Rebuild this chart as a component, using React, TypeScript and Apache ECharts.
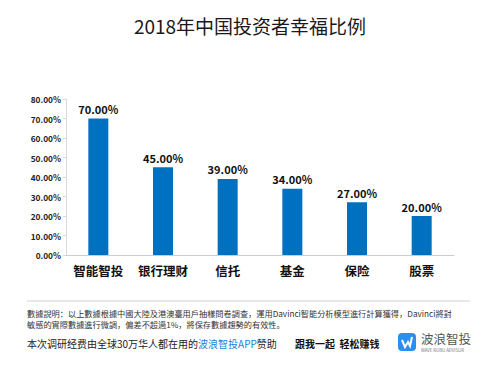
import React, { useEffect, useRef } from "react";
import * as echarts from "echarts";

const title = "2018年中国投资者幸福比例";
const categories = ["智能智投", "银行理财", "信托", "基金", "保险", "股票"];
const values = [70, 45, 39, 34, 27, 20];
const yTicks = { min: 0, max: 80, interval: 10 };
const noteLine1 = "數據說明：以上數據根據中國大陸及港澳臺用戶抽樣問卷調查，運用Davinci智能分析模型進行計算獲得，Davinci將對";
const noteLine2 = "敏感的實際數據進行微調，偏差不超過1%，將保存數據趨勢的有效性。";
const sponsorA = "本次调研经费由全球30万华人都在用的";
const sponsorB = "波浪智投APP";
const sponsorC = "赞助";
const slogan = "跟我一起  轻松赚钱";
const brand = "波浪智投";
const brandSub = "WAVE ROBO ADVISOR";

const FONT = "'Noto Sans CJK SC', 'Noto Sans', sans-serif";

export default function App() {
  const ref = useRef<HTMLDivElement>(null);
  useEffect(() => {
    if (!ref.current) return;
    const chart = echarts.init(ref.current, null, { renderer: "svg" });
    chart.setOption({
      animation: false,
      backgroundColor: "#ffffff",
      textStyle: { fontFamily: FONT },
      title: {
        text: title,
        left: "center",
        top: 11,
        textStyle: { fontSize: 19, fontWeight: "normal", color: "#1a1a1a", fontFamily: FONT },
      },
      grid: { left: 66, right: 46, top: 99, bottom: 119, containLabel: false },
      xAxis: {
        type: "category",
        data: categories,
        axisLine: { lineStyle: { color: "#c9cbd6", width: 1 } },
        axisTick: { show: false },
        axisLabel: { interval: 0, fontSize: 12.5, fontWeight: "bold", color: "#111", margin: 9, fontFamily: FONT },
      },
      yAxis: {
        type: "value",
        min: yTicks.min,
        max: yTicks.max,
        interval: yTicks.interval,
        axisLine: { show: true, lineStyle: { color: "#d9d9d9" } },
        axisTick: { show: true, length: 3, lineStyle: { color: "#d9d9d9" } },
        splitLine: { show: false },
        axisLabel: {
          fontSize: 8.3,
          fontWeight: "bold",
          color: "#222",
          margin: 5,
          fontFamily: FONT,
          formatter: (v: number) => v.toFixed(2) + "%",
        },
      },
      series: [
        {
          type: "bar",
          data: values,
          barWidth: 20,
          itemStyle: { color: "#0070c0" },
          label: {
            show: true,
            position: "top",
            distance: 4,
            fontSize: 11,
            fontWeight: "bold",
            color: "#111",
            fontFamily: FONT,
            formatter: (p: any) => Number(p.value).toFixed(2) + "%",
          },
        },
      ],
      graphic: [
        { type: "line", shape: { x1: 27, y1: 301, x2: 470, y2: 301 }, style: { stroke: "#d0d0d0", lineWidth: 1 } },
        {
          type: "text",
          x: 27,
          y: 312.5,
          style: { text: noteLine1, fontSize: 8.2, fill: "#333", fontFamily: FONT, verticalAlign: "middle" },
        },
        {
          type: "text",
          x: 27,
          y: 323.5,
          style: { text: noteLine2, fontSize: 8.2, fill: "#333", fontFamily: FONT, verticalAlign: "middle" },
        },
        {
          type: "text",
          x: 27,
          y: 343,
          style: {
            text: "{a|" + sponsorA + "}{b|" + sponsorB + "}{a|" + sponsorC + "}",
            verticalAlign: "middle",
            rich: {
              a: { fontSize: 10, fill: "#222", fontFamily: FONT },
              b: { fontSize: 10, fill: "#1a7fd4", fontFamily: FONT },
            },
          },
        },
        {
          type: "text",
          x: 295,
          y: 343,
          style: { text: slogan, fontSize: 10, fontWeight: "bold", fill: "#111", fontFamily: FONT, verticalAlign: "middle" },
        },
        { type: "rect", shape: { x: 398, y: 333, width: 18, height: 18, r: 4 }, style: { fill: "#2b8ff0" } },
        {
          type: "polyline",
          shape: { points: [[402, 340], [405, 347], [408, 342], [410, 346], [412, 337]] },
          style: { stroke: "#ffffff", lineWidth: 2, fill: "none" },
        },
        {
          type: "text",
          x: 421,
          y: 338,
          style: { text: brand, fontSize: 12.5, fill: "#555", fontFamily: FONT, verticalAlign: "middle" },
        },
        {
          type: "text",
          x: 421,
          y: 350,
          style: { text: brandSub, fontSize: 4.3, fill: "#777", fontFamily: FONT, verticalAlign: "middle" },
        },
      ],
    });
    return () => chart.dispose();
  }, []);
  return <div ref={ref} style={{ width: 500, height: 374, position: "fixed", left: 0, top: 0 }} />;
}
